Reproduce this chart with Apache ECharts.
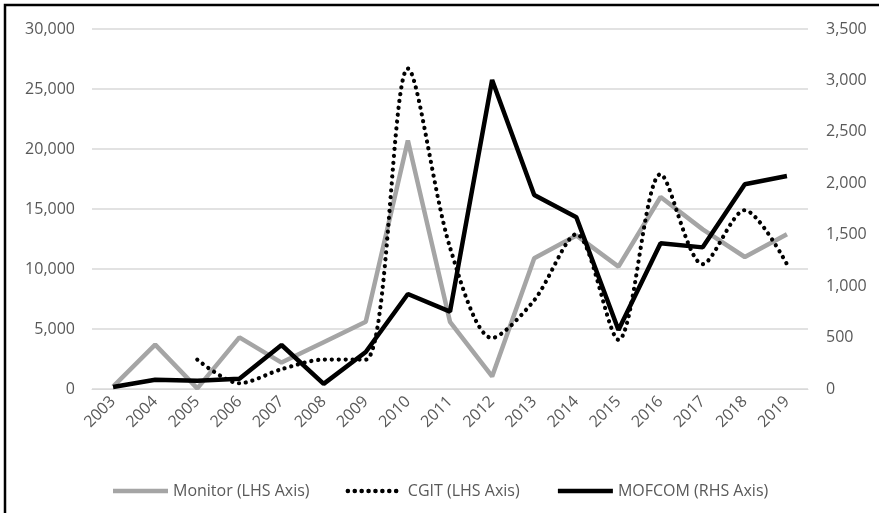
<!DOCTYPE html>
<html>
<head>
<meta charset="utf-8">
<script src="https://cdn.jsdelivr.net/npm/echarts@6/dist/echarts.min.js"></script>
<style>
  html, body { margin: 0; padding: 0; background: #fff; }
  #chart { width: 879px; height: 513px; }
</style>
</head>
<body>
<div id="chart"></div>
<script>
// years on the x axis
var years = ['2003', '2004', '2005', '2006', '2007', '2008', '2009', '2010', '2011',
  '2012', '2013', '2014', '2015', '2016', '2017', '2018', '2019']

// left axis series
var monitor = [200, 3700, 50, 4300, 2200, 3900, 5600, 20700, 5600, 1050, 10900, 12800, 10200, 16000, 13300, 11000, 12900]
var cgit = [null, null, 2450, 480, 1650, 2450, 2450, 26700, 11800, 4250, 7400, 12900, 4100, 17900, 10400, 14900, 10400]

// right axis series
var mofcom = [20, 90, 80, 100, 428, 50, 360, 924, 752, 3004, 1886, 1670, 574, 1416, 1377, 1990, 2071]

var legendNames = ['Monitor (LHS Axis)', 'CGIT (LHS Axis)', 'MOFCOM (RHS Axis)']

var labelFont = { color: '#595959', fontSize: 16, fontFamily: 'Open Sans' }

var chart = echarts.init(document.getElementById('chart'))
chart.setOption({
  animation: false,
  graphic: [{
    type: 'rect',
    shape: { x: 5, y: 5, width: 1000, height: 1000 },
    style: { fill: 'none', stroke: '#000', lineWidth: 2.5 },
    silent: true
  }],
  grid: { left: 92, right: 71, top: 29, bottom: 124 },
  legend: {
    data: legendNames,
    left: 'center',
    top: 478,
    itemWidth: 55,
    itemHeight: 14,
    itemGap: 36,
    itemStyle: { opacity: 0 },
    lineStyle: { width: 4.5 },
    textStyle: labelFont
  },
  xAxis: {
    type: 'category',
    data: years,
    axisLine: { show: true, lineStyle: { color: '#d9d9d9', width: 1 } },
    axisTick: { show: false },
    axisLabel: Object.assign({ rotate: 45, margin: 10 }, labelFont)
  },
  yAxis: [{
    type: 'value',
    min: 0,
    max: 30000,
    interval: 5000,
    axisLine: { show: false },
    axisTick: { show: false },
    splitLine: { lineStyle: { color: '#d9d9d9', width: 1.5 } },
    axisLabel: Object.assign({
      margin: 17,
      formatter: function (v) { return v.toLocaleString('en-US') }
    }, labelFont)
  }, {
    type: 'value',
    min: 0,
    max: 3500,
    interval: 500,
    alignTicks: false,
    axisLine: { show: false },
    axisTick: { show: false },
    splitLine: { show: false },
    axisLabel: Object.assign({
      margin: 18,
      formatter: function (v) { return v.toLocaleString('en-US') }
    }, labelFont)
  }],
  series: [{
    name: legendNames[0],
    type: 'line',
    data: monitor,
    symbol: 'none',
    lineStyle: { color: '#a5a5a5', width: 4.5 },
    itemStyle: { color: '#a5a5a5' }
  }, {
    name: legendNames[1],
    type: 'line',
    data: cgit,
    smooth: 0.3,
    symbol: 'none',
    lineStyle: { color: '#000', width: 4.2, type: [0.1, 6.8], cap: 'round' },
    itemStyle: { color: '#000' }
  }, {
    name: legendNames[2],
    type: 'line',
    yAxisIndex: 1,
    data: mofcom,
    symbol: 'none',
    lineStyle: { color: '#000', width: 4.5 },
    itemStyle: { color: '#000' }
  }]
})
</script>
</body>
</html>
